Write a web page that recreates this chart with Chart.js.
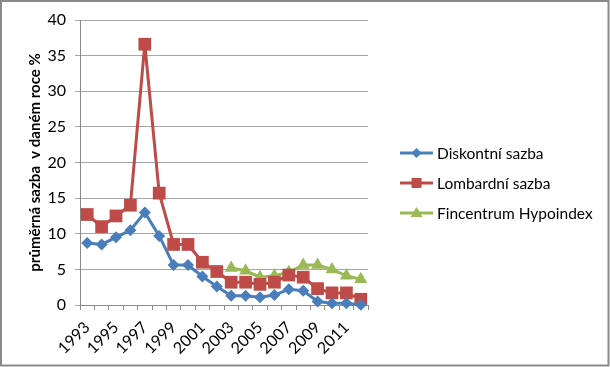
<!DOCTYPE html>
<html>
<head>
<meta charset="utf-8">
<script src="https://cdn.jsdelivr.net/npm/chart.js@4/dist/chart.umd.min.js"></script>
<style>
html,body{margin:0;padding:0;background:#fff;}
#wrap{position:relative;width:610px;height:367px;}
</style>
</head>
<body>
<div id="wrap"><canvas id="c" width="610" height="367"></canvas></div>
<script>
const years = ['1993','1994','1995','1996','1997','1998','1999','2000','2001','2002','2003','2004','2005','2006','2007','2008','2009','2010','2011','2012'];
const diskontni = [8.7, 8.5, 9.5, 10.5, 13.0, 9.7, 5.6, 5.6, 4.0, 2.6, 1.3, 1.3, 1.1, 1.4, 2.2, 2.0, 0.5, 0.25, 0.25, 0.05];
const lombardni = [12.7, 11.0, 12.5, 14.0, 36.6, 15.7, 8.5, 8.5, 6.0, 4.7, 3.2, 3.2, 2.9, 3.2, 4.2, 3.9, 2.3, 1.7, 1.7, 0.8];
const hypoindex = [null, null, null, null, null, null, null, null, null, null, 5.2, 4.8, 3.9, 4.1, 4.6, 5.6, 5.6, 5.0, 4.1, 3.6];
const seriesNames = ['Diskontní sazba', 'Lombardní sazba', 'Fincentrum Hypoindex'];
const yTitle = 'průměrná sazba  v daném roce %';

const FONT = 'Lato, "Open Sans", sans-serif';
const colors = ['#4a7ebb', '#be4b48', '#98b954'];
const styles = ['rectRot', 'rect', 'triangle'];
const radii = [6, 9, 7.5];

const framePlugin = {
  id: 'frame',
  beforeDraw(chart) {
    const ctx = chart.ctx;
    ctx.save();
    ctx.fillStyle = '#fff';
    ctx.fillRect(0, 0, chart.width, chart.height);
    ctx.restore();
  },
  afterDraw(chart) {
    const ctx = chart.ctx;
    ctx.save();
    ctx.strokeStyle = '#8a8a8a';
    ctx.lineWidth = 2;
    ctx.strokeRect(1, 1, 607.5, 364.5);
    // legend
    ctx.font = '15.5px ' + FONT;
    ctx.textBaseline = 'middle';
    const ys = [153, 183, 213];
    chart.data.datasets.forEach((ds, i) => {
      const y = ys[i];
      ctx.strokeStyle = colors[i];
      ctx.lineWidth = 3;
      ctx.beginPath();
      ctx.moveTo(400, y);
      ctx.lineTo(433, y);
      ctx.stroke();
      ctx.fillStyle = colors[i];
      const cx = 416.5;
      ctx.beginPath();
      if (i === 0) { ctx.moveTo(cx, y - 5); ctx.lineTo(cx + 5, y); ctx.lineTo(cx, y + 5); ctx.lineTo(cx - 5, y); }
      else if (i === 1) { ctx.rect(cx - 5, y - 5, 10, 10); }
      else { ctx.moveTo(cx, y - 6); ctx.lineTo(cx + 6, y + 4); ctx.lineTo(cx - 6, y + 4); }
      ctx.closePath();
      ctx.fill();
      ctx.fillStyle = '#000';
      ctx.fillText(seriesNames[i], 437, y + 1);
    });
    ctx.restore();
  }
};

const mk = (label, data, i) => ({
  label, data,
  borderColor: colors[i],
  backgroundColor: colors[i],
  pointBackgroundColor: colors[i],
  pointBorderColor: colors[i],
  pointBorderWidth: 0,
  borderWidth: 3,
  pointStyle: styles[i],
  pointRadius: radii[i],
  pointHoverRadius: radii[i],
  tension: 0,
  spanGaps: false,
  clip: false
});

new Chart(document.getElementById('c'), {
  type: 'line',
  data: {
    labels: years,
    datasets: [
      mk(seriesNames[0], diskontni, 0),
      mk(seriesNames[1], lombardni, 1),
      mk(seriesNames[2], hypoindex, 2)
    ]
  },
  options: {
    responsive: false,
    animation: false,
    devicePixelRatio: 1,
    layout: { padding: { left: 26, right: 242, top: 20, bottom: 0 } },
    plugins: { legend: { display: false }, tooltip: { enabled: false } },
    scales: {
      x: {
        type: 'category',
        offset: true,
        afterFit(s) { s.height = 62; },
        grid: { display: true, drawOnChartArea: false, drawTicks: true, tickLength: 5, offset: true, color: '#8a8a8a' },
        border: { display: true, color: '#8a8a8a', width: 1 },
        ticks: {
          autoSkip: false, maxRotation: 45, minRotation: 45, padding: 8,
          color: '#000', font: { family: FONT, size: 16 },
          callback(v, i) { return i % 2 === 0 ? years[i] : ''; }
        }
      },
      y: {
        min: 0, max: 40,
        afterFit(s) { s.width = 54; },
        grid: { color: '#a6a6a6', tickLength: 5, drawTicks: true },
        border: { display: true, color: '#8a8a8a', width: 1 },
        ticks: { stepSize: 5, padding: 9, color: '#000', font: { family: FONT, size: 16 } },
        title: { display: true, text: yTitle, color: '#000', padding: 0, font: { family: FONT, size: 15, weight: 'bold' } }
      }
    }
  },
  plugins: [framePlugin]
});
</script>
</body>
</html>
